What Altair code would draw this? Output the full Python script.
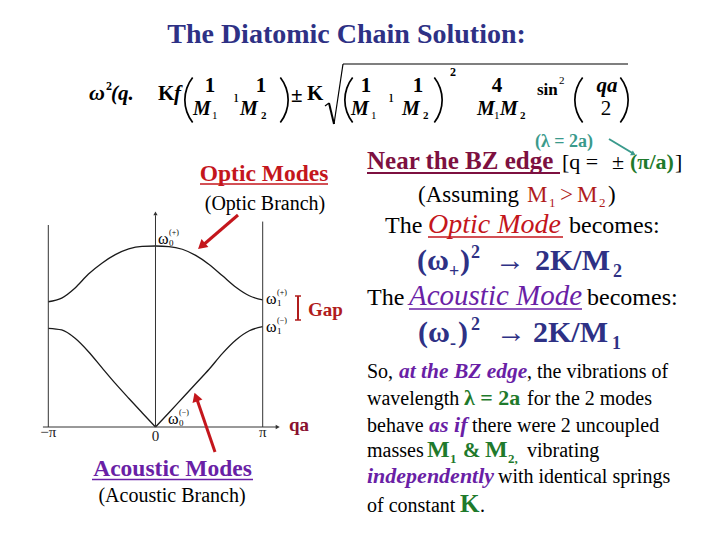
import math
import altair as alt
import pandas as pd

# ---------------- data ----------------
qa_over_pi = [-1, -0.875, -0.75, -0.625, -0.5, -0.375, -0.25, -0.125, 0,
              0.125, 0.25, 0.375, 0.5, 0.625, 0.75, 0.875, 1]
optic = [0.692, 0.712, 0.768, 0.845, 0.905, 0.952, 0.984, 0.998, 1.0,
         0.997, 0.982, 0.948, 0.898, 0.835, 0.772, 0.725, 0.702]
acoustic = [0.545, 0.536, 0.490, 0.416, 0.328, 0.241, 0.159, 0.079, 0.0,
            0.079, 0.159, 0.239, 0.319, 0.407, 0.481, 0.532, 0.554]
tick_pos = [-1, 0, 1]
tick_labels = ["\u2212\u03c0", "0", "\u03c0"]
frame_tops = [1.116, 1.17, 1.135]

SERIF = "Liberation Serif"
NAVY = "#2e3185"
RED = "#c4161c"
DRED = "#b01c1c"
MAROON = "#7d1040"
PURPLE = "#6a1fa6"
GREEN = "#1f7a2c"
TEAL = "#3a9a8c"

rows = []
for f, w in zip(qa_over_pi, optic):
    rows.append({"f": f, "w": w, "branch": "optic"})
for f, w in zip(qa_over_pi, acoustic):
    if f <= 0:
        rows.append({"f": f, "w": w, "branch": "acoustic_l"})
    if f >= 0:
        rows.append({"f": f, "w": w, "branch": "acoustic_r"})
curves = pd.DataFrame(rows)

xs = alt.Scale(domain=[-1.3759, 5.1912], nice=False, zero=False)
ys = alt.Scale(domain=[-0.5801, 2.3149], nice=False, zero=False)
X = lambda field: alt.X(field, scale=xs, axis=None)
Y = lambda field: alt.Y(field, scale=ys, axis=None)

layers = []

# curves
layers.append(
    alt.Chart(curves).mark_line(interpolate="monotone", color="#1a1a1a", strokeWidth=1.3)
    .encode(x=X("f:Q"), y=Y("w:Q"), detail="branch:N")
)
# frame verticals
frame = pd.DataFrame({"f": tick_pos, "top": frame_tops, "base": [0, 0, 0]})
layers.append(
    alt.Chart(frame).mark_rule(color="#333", strokeWidth=1)
    .encode(x=X("f:Q"), y=Y("base:Q"), y2="top:Q")
)
# horizontal axis
haxis = pd.DataFrame({"f1": [-1.05], "f2": [1.13], "w": [0]})
layers.append(
    alt.Chart(haxis).mark_rule(color="#333", strokeWidth=1)
    .encode(x=X("f1:Q"), x2="f2:Q", y=Y("w:Q"))
)
layers.append(
    alt.Chart(pd.DataFrame({"f": [1.14], "w": [0]})).mark_point(
        shape="triangle-right", filled=True, color="#333", size=22, opacity=1)
    .encode(x=X("f:Q"), y=Y("w:Q"))
)
layers.append(
    alt.Chart(pd.DataFrame({"f": [0], "w": [1.18]})).mark_point(
        shape="triangle-up", filled=True, color="#333", size=18, opacity=1)
    .encode(x=X("f:Q"), y=Y("w:Q"))
)
# tick labels
ticks = pd.DataFrame({"f": tick_pos, "label": tick_labels, "w": [-0.055, -0.075, -0.055]})
layers.append(
    alt.Chart(ticks).mark_text(font=SERIF, fontSize=15, color="#222", baseline="alphabetic")
    .encode(x=X("f:Q"), y=Y("w:Q"), text="label:N")
)


def T(text, x, y, size, color="black", weight="normal", style="normal", align="left"):
    return alt.Chart(pd.DataFrame({"t": [text]})).mark_text(
        align=align, baseline="alphabetic", fontSize=size, color=color,
        fontWeight=weight, fontStyle=style, font=SERIF
    ).encode(text="t:N", x=alt.value(x - 8), y=alt.value(y - 8))


def R(x1, y1, x2, y2, color="black", width=1.0):
    return alt.Chart(pd.DataFrame({"a": [0]})).mark_rule(
        color=color, strokeWidth=width
    ).encode(x=alt.value(x1 - 8), y=alt.value(y1 - 8), x2=alt.value(x2 - 8), y2=alt.value(y2 - 8))


def HEAD(x, y, angle, size, color):
    return alt.Chart(pd.DataFrame({"a": [0]})).mark_point(
        shape="triangle-up", filled=True, color=color, size=size, opacity=1, angle=angle
    ).encode(x=alt.value(x - 8), y=alt.value(y - 8))


# big parentheses drawn as thin arcs
PR = 37.0
PHALF = math.radians(38.4)


def PAREN(edge_x, yc, left=True):
    if left:
        cx = edge_x + PR
        t1, t2 = 1.5 * math.pi - PHALF, 1.5 * math.pi + PHALF
    else:
        cx = edge_x - PR
        t1, t2 = 0.5 * math.pi - PHALF, 0.5 * math.pi + PHALF
    return alt.Chart(pd.DataFrame({"a": [0]})).mark_arc(
        radius=PR, radius2=PR - 1.7, theta=t1, theta2=t2, color="black"
    ).encode(x=alt.value(cx - 8), y=alt.value(yc - 8))


# title
layers.append(T("The Diatomic Chain Solution:", 346.5, 43, 28, NAVY, "bold", align="center"))

# formula
B = "bold"
I = "italic"
layers += [
    T("\u03c9", 89, 100, 22, weight=B, style=I),
    T("2", 106, 90, 12, weight=B),
    T("(q.", 111, 100, 21, weight=B, style=I),
    T("K", 158, 100, 21, weight=B),
    T("f", 174, 100, 21, weight=B, style=I),
    PAREN(184, 100, True),
    T("1", 210, 92, 21, weight=B, align="center"),
    T("M", 193, 115, 20, weight=B, style=I), T("1", 212, 119, 11),
    T("\u0131", 234, 102, 16),
    T("1", 261, 92, 21, weight=B, align="center"),
    T("M", 240, 115, 20, weight=B, style=I), T("2", 261, 119, 11, weight=B),
    PAREN(289, 100, False),
    T("\u00b1", 291, 102, 21, weight=B),
    T("K", 307, 100, 21, weight=B),
    PAREN(344, 100, True),
    T("1", 366, 92, 21, weight=B, align="center"),
    T("M", 351, 115, 20, weight=B, style=I), T("1", 371, 119, 11),
    T("\u0131", 389, 102, 16),
    T("1", 418, 92, 21, weight=B, align="center"),
    T("M", 402, 115, 20, weight=B, style=I), T("2", 423, 119, 11, weight=B),
    PAREN(443, 100, False),
    T("2", 450, 76, 12, weight=B),
    T("4", 497, 92, 21, weight=B, align="center"),
    T("M", 477, 115, 20, weight=B, style=I), T("1", 494, 119, 11),
    T("M", 500, 115, 20, weight=B, style=I), T("2", 520, 119, 11, weight=B),
    T("sin", 537, 95, 17, weight=B), T("2", 559, 84, 11),
    PAREN(574, 100, True),
    T("qa", 607, 92, 21, weight=B, style=I, align="center"),
    T("2", 606, 115, 21, align="center"),
    PAREN(629, 100, False),
]
# square root sign
layers += [
    R(325, 106, 329, 103, width=1.2),
    R(329, 103, 334, 124, width=2),
    R(334, 124, 343, 64, width=1.2),
    R(343, 64, 628, 64, width=1.2),
]

# lambda note + teal arrow
layers.append(T("(\u03bb = 2a)", 535, 147, 18, TEAL, "bold"))
layers.append(R(609, 139, 634, 154, TEAL, 2))
layers.append(HEAD(633.5, 154, 120, 30, TEAL))

# left labels
layers += [
    T("Optic Modes", 264, 181, 23.5, RED, "bold", align="center"),
    R(200, 184, 328, 184, RED, 1.6),
    T("(Optic Branch)", 265, 210, 20, align="center"),
    T("Acoustic Modes", 172.5, 476, 23.5, PURPLE, "bold", align="center"),
    R(92, 479.5, 253, 479.5, PURPLE, 1.6),
    T("(Acoustic Branch)", 172, 502, 20, align="center"),
]
# red arrows
layers += [
    R(238, 215, 202, 246, RED, 3),
    HEAD(201.5, 246, 229, 110, RED),
    R(215, 452, 196.5, 398, RED, 3),
    HEAD(196, 397, 341, 110, RED),
]

# omega labels
def omega(x, y, sub, sup):
    return [T("\u03c9", x, y, 16), T(sub, x + 11, y + 2, 9), T(sup, x + 11, y - 9, 8)]

layers += omega(158, 244, "0", "(+)")
layers += omega(266, 304, "1", "(+)")
layers += omega(266, 332, "1", "(\u2212)")
layers += omega(168, 424, "0", "(\u2212)")

# gap marker
layers += [
    R(298, 296, 298, 320, DRED, 2),
    R(295, 296, 301, 296, DRED, 1.5),
    R(295, 320, 301, 320, DRED, 1.5),
    T("Gap", 308, 316, 19, DRED, "bold"),
    T("qa", 289, 431, 19, "#8a1030", "bold"),
]

# right column
layers += [
    T("Near the BZ edge", 367, 169, 25, MAROON, "bold"),
    R(367, 173, 560, 173, MAROON, 1.8),
    T("[q =", 562, 169, 22),
    T("\u00b1", 612, 169, 22),
    T("(\u03c0/a)", 630, 169, 22, GREEN, "bold"),
    T("]", 675, 169, 22),

    T("(Assuming", 418, 202, 23),
    T("M", 527, 202, 23, DRED), T("1", 549, 207, 13, DRED),
    T(">", 560, 202, 23, DRED),
    T("M", 577, 202, 23, DRED), T("2", 599, 207, 13, DRED),
    T(")", 608, 202, 23),

    T("The", 385, 233, 24),
    T("Optic Mode", 428, 233, 28, RED, style="italic"),
    R(428, 237, 563, 237, RED, 1.6),
    T("becomes:", 569, 233, 24),

    T("(\u03c9", 417, 270, 30, NAVY, "bold"),
    T("+", 449, 277, 18, NAVY, "bold"),
    T(")", 460, 270, 30, NAVY, "bold"),
    T("2", 471, 258, 18, NAVY, "bold"),
    T("\u2192", 495, 270, 30, NAVY, "bold"),
    T("2K/M", 535, 270, 30, NAVY, "bold"),
    T("2", 613, 277, 18, NAVY, "bold"),

    T("The", 367, 305, 24),
    T("Acoustic Mode", 409, 305, 29, PURPLE, style="italic"),
    R(409, 309, 582, 309, PURPLE, 1.6),
    T("becomes:", 587, 305, 24),

    T("(\u03c9", 418, 342, 30, NAVY, "bold"),
    T("-", 450, 349, 18, NAVY, "bold"),
    T(")", 458, 342, 30, NAVY, "bold"),
    T("2", 471, 330, 18, NAVY, "bold"),
    T("\u2192", 496, 342, 30, NAVY, "bold"),
    T("2K/M", 533, 342, 30, NAVY, "bold"),
    T("1", 612, 349, 18, NAVY, "bold"),
]

# paragraph
layers += [
    T("So,", 367, 378, 20),
    T("at the BZ edge", 399, 378, 21.5, PURPLE, "bold", "italic"),
    T(", the vibrations of", 527, 378, 20),
    T("wavelength", 367, 405, 20),
    T("\u03bb = 2a", 464, 405, 22, GREEN, "bold"),
    T("for the 2 modes", 527, 405, 20),
    T("behave", 367, 432, 20),
    T("as if", 429, 432, 22, PURPLE, "bold", "italic"),
    T("there were 2 uncoupled", 472, 432, 20),
    T("masses", 367, 457, 20),
    T("M", 427, 457, 24, GREEN, "bold"), T("1", 450, 463, 13, GREEN, "bold"),
    T("&", 463, 457, 21, GREEN, "bold"),
    T("M", 485, 457, 24, GREEN, "bold"), T("2,", 508, 463, 13, GREEN, "bold"),
    T("vibrating", 527, 457, 20),
    T("independently", 367, 483, 22, PURPLE, "bold", "italic"),
    T("with identical springs", 498, 483, 20),
    T("of constant", 367, 512, 20),
    T("K", 460, 512, 25, GREEN, "bold"),
    T(".", 480, 512, 20),
]

chart = alt.layer(*layers).properties(
    width=704, height=524, padding=0, autosize="none", background="white"
).configure_view(stroke=None)

chart.save("out.html", embed_options={"renderer": "svg", "actions": False})
